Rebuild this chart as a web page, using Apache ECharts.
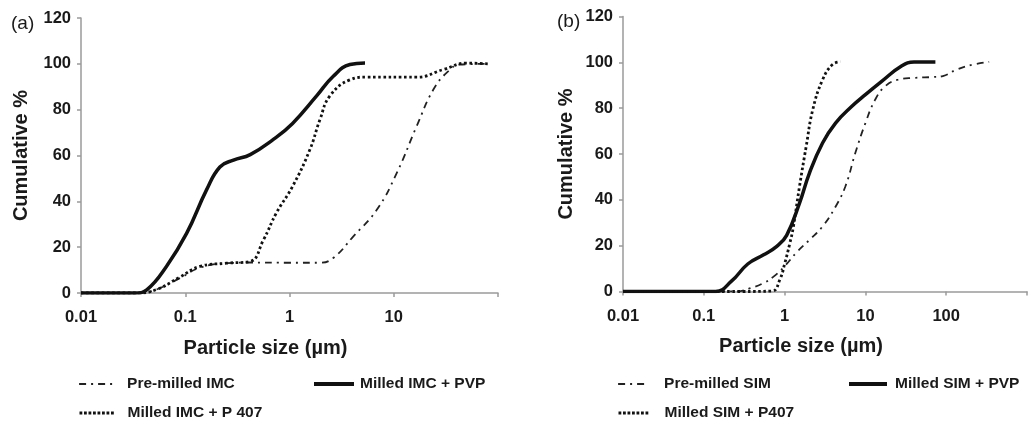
<!DOCTYPE html>
<html>
<head>
<meta charset="utf-8">
<script src="https://cdn.jsdelivr.net/npm/echarts@6/dist/echarts.min.js"></script>
<style>html,body{margin:0;padding:0;background:#fff}#c{width:1030px;height:421px}</style>
</head>
<body>
<div id="c"></div>
<script>
// ---- Panel (a): IMC ----
const imcPreSize  = [0.01, 0.03, 0.04, 0.053, 0.089, 0.138, 0.25, 0.42, 1.0, 1.96, 2.63, 4.1, 6.9, 10.7, 16.6, 24, 33.4, 43, 80];
const imcPreVal   = [0, 0, 0.3, 1.5, 6.5, 11, 13, 13.3, 13.2, 13.2, 15.3, 24.7, 36.4, 52.4, 72.8, 88.8, 96.8, 99.7, 100];
const imcPvpSize  = [0.01, 0.033, 0.0427, 0.066, 0.103, 0.16, 0.215, 0.29, 0.42, 0.70, 1.07, 1.82, 2.63, 3.8, 5.3];
const imcPvpVal   = [0, 0, 1.4, 11.6, 26, 45, 55, 58, 60.4, 67, 74, 86, 94.6, 99.7, 100.4];
const imcP407Size = [0.01, 0.035, 0.053, 0.089, 0.138, 0.25, 0.42, 0.56, 0.75, 1.07, 1.57, 1.96, 2.44, 3.8, 5.5, 16.6, 29.9, 50, 80];
const imcP407Val  = [0, 0, 1.5, 7, 11.6, 13, 13.8, 23, 35, 46.5, 62.6, 75.7, 86, 93, 94.2, 94.2, 97.5, 100.3, 100];
// ---- Panel (b): SIM ----
const simPreSize  = [0.01, 0.25, 0.38, 0.55, 0.73, 1.0, 1.4, 2.03, 2.95, 4.27, 5.66, 7.5, 10, 13.2, 17.5, 25.2, 40, 70, 91, 134, 214, 340];
const simPreVal   = [0, 0, 1.5, 3.7, 6.5, 11, 17, 22.5, 28.4, 37, 45.9, 60.4, 73.5, 83.7, 89.5, 92.4, 93.2, 93.6, 94, 96.8, 99, 100.2];
const simPvpSize  = [0.01, 0.14, 0.22, 0.35, 0.55, 0.80, 1.06, 1.53, 2.03, 2.95, 4.27, 6.8, 10, 15.9, 27.7, 40, 73.5];
const simPvpVal   = [0, 0, 4.5, 12, 16, 19.7, 24.5, 38.6, 51.7, 64.8, 73.5, 80.8, 85.9, 91.7, 98.3, 100.2, 100.2];
const simP407Size = [0.01, 0.3, 0.7, 0.88, 1.0, 1.16, 1.28, 1.53, 1.85, 2.23, 2.95, 3.9, 4.9];
const simP407Val  = [0, 0, 0.2, 5.5, 12, 21, 28, 45.9, 63.3, 79.3, 92.4, 99, 100.2];

const xTicksA = ['0.01', '0.1', '1', '10', ''];
const xTicksB = ['0.01', '0.1', '1', '10', '100', ''];
const yTicks = ['0', '20', '40', '60', '80', '100', '120'];

const namesA = ['Pre-milled IMC', 'Milled IMC + PVP', 'Milled IMC + P 407'];
const namesB = ['Pre-milled SIM', 'Milled SIM + PVP', 'Milled SIM + P407'];

function zip(xs, ys) { return xs.map((x, i) => [x, ys[i]]); }

const FONT = '"Liberation Sans", Arial, sans-serif';
const INK = '#1a1a1a';
const AXIS = '#9a9a9a';

const styles = {
  pre:  { color: '#222', width: 1.8, type: [7, 5, 2, 5] },
  pvp:  { color: '#111', width: 3.5, type: 'solid' },
  p407: { color: '#111', width: 2.8, type: [2.6, 2.6] }
};
const legendStyles = {
  pre:  { color: '#222', width: 2.2, type: [7, 5, 2, 5] },
  pvp:  { color: '#111', width: 4, type: 'solid' },
  p407: { color: '#111', width: 3, type: [2.8, 1.7] }
};

function xAxis(gi, maxV, ticks) {
  return {
    type: 'log', logBase: 10, gridIndex: gi, min: 0.01, max: maxV,
    name: 'Particle size (µm)', nameLocation: 'middle', nameGap: 45,
    nameTextStyle: { fontFamily: FONT, fontSize: 20, fontWeight: 'bold', color: INK, padding: [0, 48, 0, 0] },
    axisLine: { show: true, lineStyle: { color: AXIS, width: 1.5 } },
    axisTick: { show: true, length: 4, lineStyle: { color: AXIS, width: 1.5 } },
    axisLabel: { fontFamily: FONT, fontSize: 16.5, fontWeight: 'bold', color: INK, margin: 16,
      formatter: (v, i) => ticks[i] !== undefined ? ticks[i] : '' },
    splitLine: { show: false }, minorTick: { show: false }
  };
}
function yAxis(gi, gap) {
  return {
    type: 'value', gridIndex: gi, min: 0, max: 120, interval: 20,
    name: 'Cumulative %', nameLocation: 'middle', nameGap: gap,
    nameTextStyle: { fontFamily: FONT, fontSize: 20, fontWeight: 'bold', color: INK },
    axisLine: { show: true, lineStyle: { color: AXIS, width: 1.5 } },
    axisTick: { show: true, length: 4, lineStyle: { color: AXIS, width: 1.5 } },
    axisLabel: { fontFamily: FONT, fontSize: 16.5, fontWeight: 'bold', color: INK, margin: 10,
      formatter: (v, i) => yTicks[i] },
    splitLine: { show: false }
  };
}
function series(name, gi, xs, ys, st) {
  return {
    name, type: 'line', xAxisIndex: gi, yAxisIndex: gi, data: zip(xs, ys),
    smooth: 0.45, symbol: 'none', showSymbol: false,
    lineStyle: st, itemStyle: { color: st.color }, animation: false, z: 3
  };
}
function legend(name, left, top, w, pad, ls) {
  return {
    data: [name], left, top, itemWidth: w, itemHeight: 12, padding: 0,
    selectedMode: false,
    itemStyle: { opacity: 0 },
    lineStyle: ls,
    textStyle: { fontFamily: FONT, fontSize: 15.5, fontWeight: 'bold', color: INK, padding: [0, 0, 0, pad] }
  };
}

const chart = echarts.init(document.getElementById('c'), null, { renderer: 'canvas' });
chart.setOption({
  backgroundColor: '#fff',
  animation: false,
  title: [
    { text: '(a)', left: 6, top: 9, textStyle: { fontFamily: FONT, fontSize: 19, fontWeight: 'normal', color: INK } },
    { text: '(b)', left: 552, top: 7, textStyle: { fontFamily: FONT, fontSize: 19, fontWeight: 'normal', color: INK } }
  ],
  grid: [
    { left: 81, top: 18, width: 417, height: 275, containLabel: false },
    { left: 623, top: 16.5, width: 412, height: 275, containLabel: false }
  ],
  xAxis: [xAxis(0, 100, xTicksA), xAxis(1, 1000, xTicksB)],
  yAxis: [yAxis(0, 50), yAxis(1, 47)],
  legend: [
    legend(namesA[0], 78, 376, 35, 8, legendStyles.pre),
    legend(namesA[1], 312, 376, 40, 1, legendStyles.pvp),
    legend(namesA[2], 78, 405, 35, 8, legendStyles.p407),
    legend(namesB[0], 617, 376, 31, 10, legendStyles.pre),
    legend(namesB[1], 847, 376, 38, 3, legendStyles.pvp),
    legend(namesB[2], 617, 405, 31, 10, legendStyles.p407)
  ],
  series: [
    series(namesA[0], 0, imcPreSize, imcPreVal, styles.pre),
    series(namesA[1], 0, imcPvpSize, imcPvpVal, styles.pvp),
    series(namesA[2], 0, imcP407Size, imcP407Val, styles.p407),
    series(namesB[0], 1, simPreSize, simPreVal, styles.pre),
    series(namesB[1], 1, simPvpSize, simPvpVal, styles.pvp),
    series(namesB[2], 1, simP407Size, simP407Val, styles.p407)
  ]
});
</script>
</body>
</html>
